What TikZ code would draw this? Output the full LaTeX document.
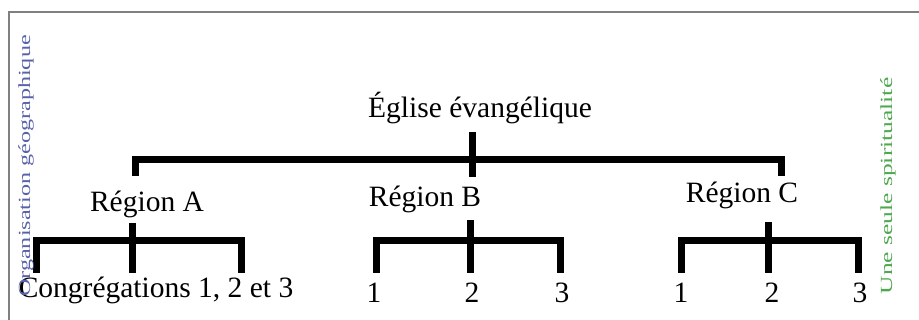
\documentclass[tikz,border=0pt]{standalone}
\usepackage{fontspec}
\setmainfont{Liberation Serif}
\usepackage{tikz}
\usetikzlibrary{calc}

\definecolor{orgblue}{RGB}{88,98,170}
\definecolor{spigreen}{RGB}{78,168,78}

\begin{document}
\begin{tikzpicture}[x=1pt,y=-1pt,
  bar/.style={line width=7pt},
  lbl/.style={anchor=base,inner sep=0pt,font=\fontsize{29.5}{32}\selectfont},
  side/.style={rotate=90,inner sep=0pt,font=\fontsize{17}{19}\selectfont}]
\useasboundingbox (0,0) rectangle (919,320);
\draw[gray,line width=1.5pt] (9,320) -- (9,12) -- (919,12);
% top level
\node[lbl] (eglise) at (480,118) {Église évangélique};
\node[lbl] (regA) at (147,212) {Région A};
\node[lbl] (regB) at (425,207) {Région B};
\node[lbl] (regC) at (742,203) {Région C};
\coordinate (hub) at (472,132);
\coordinate (hubL) at (135,176);
\coordinate (hubR) at (781,176);
\draw[bar] (hub) -- ++(0,45);
\draw[bar] (hubL) |- (hubR |- 0,160) -- (hubR);
% congregations
\node[lbl] (congA) at (156,298) {Congrégations 1, 2 et 3};
\foreach \n/\x/\t in {b1/374/1,b2/472/2,b3/562/3,c1/681/1,c2/772/2,c3/860/3}{
  \node[lbl] (\n) at (\x,303) {\t};
}
% brackets below each region
\foreach \r/\l/\m/\s/\t in {A/36/132/241/223, B/376/470/560/220, C/681/768/858/222}{
  \coordinate (\r L) at (\l,273);
  \coordinate (\r M) at (\m,\t);
  \coordinate (\r R) at (\s,273);
  \draw[bar] (\r L) |- (\r R |- 0,241) -- (\r R);
  \draw[bar] (\r M) -- (\m,273);
}
% side labels
\node[side,text=orgblue] (orga) at (26,166) {\scalebox{1.42}[1]{Organisation géographique}};
\node[side,text=spigreen] (spir) at (888,186) {\scalebox{1.5}[1]{Une seule spiritualité}};
\end{tikzpicture}
\end{document}
